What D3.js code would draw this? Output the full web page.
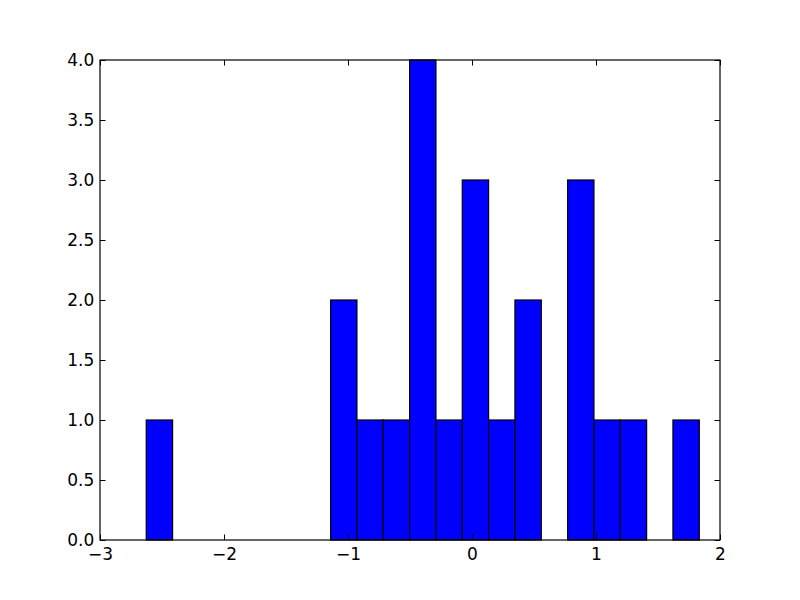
<!DOCTYPE html>
<html>
<head>
<meta charset="utf-8">
<script src="https://cdn.jsdelivr.net/npm/d3@7"></script>
<style>
  html, body { margin: 0; padding: 0; background: #fff; }
  svg { display: block; }
  text { font-family: "DejaVu Sans", sans-serif; }
</style>
</head>
<body>
<svg id="chart" width="800" height="600"></svg>
<script>
// Histogram data
const binStart = -2.627;
const binEnd = 1.833;
const counts = [1, 0, 0, 0, 0, 0, 0, 2, 1, 1, 4, 1, 3, 1, 2, 0, 3, 1, 1, 0, 1];
const xTicks = [-3, -2, -1, 0, 1, 2];
const yTicks = [0, 0.5, 1, 1.5, 2, 2.5, 3, 3.5, 4];

const margin = {left: 100, right: 80, top: 60, bottom: 60};
const W = 800, H = 600;
const svg = d3.select("#chart");

const x = d3.scaleLinear().domain([-3, 2]).range([margin.left, W - margin.right]);
const y = d3.scaleLinear().domain([0, 4]).range([H - margin.bottom, margin.top]);

const bw = (binEnd - binStart) / counts.length;
const bins = counts.map((c, i) => ({x0: binStart + i * bw, x1: binStart + (i + 1) * bw, c}));

svg.append("rect").attr("x", x(-3)).attr("y", y(4))
  .attr("width", x(2) - x(-3)).attr("height", y(0) - y(4)).attr("fill", "#fff");

svg.append("g").selectAll("rect").data(bins.filter(b => b.c > 0)).join("rect")
  .attr("x", d => x(d.x0))
  .attr("y", d => y(d.c))
  .attr("width", d => x(d.x1) - x(d.x0))
  .attr("height", d => y(0) - y(d.c))
  .attr("fill", "#0000ff")
  .attr("stroke", "#000")
  .attr("stroke-width", 1.2);

const tickLen = 5.5;
const fmtX = d => d < 0 ? "\u2212" + Math.abs(d) : String(d);
const fmtY = d3.format(".1f");

const axB = d3.axisBottom(x).tickValues(xTicks).tickSizeInner(-tickLen).tickSizeOuter(0).tickPadding(8).tickFormat(fmtX);
const axT = d3.axisTop(x).tickValues(xTicks).tickSizeInner(-tickLen).tickSizeOuter(0).tickFormat("");
const axL = d3.axisLeft(y).tickValues(yTicks).tickSizeInner(-tickLen).tickSizeOuter(0).tickPadding(5.7).tickFormat(fmtY);
const axR = d3.axisRight(y).tickValues(yTicks).tickSizeInner(-tickLen).tickSizeOuter(0).tickFormat("");

function style(g) {
  g.select(".domain").remove();
  g.selectAll(".tick line").attr("stroke", "#000").attr("stroke-width", 1);
  g.selectAll(".tick text").attr("fill", "#000").attr("font-size", "17px").attr("font-family", "DejaVu Sans, sans-serif");
}
svg.append("g").attr("transform", `translate(0,${y(0)})`).call(axB).call(style);
svg.append("g").attr("transform", `translate(0,${y(4)})`).call(axT).call(style);
svg.append("g").attr("transform", `translate(${x(-3)},0)`).call(axL).call(style);
svg.append("g").attr("transform", `translate(${x(2)},0)`).call(axR).call(style);

svg.append("rect").attr("x", x(-3)).attr("y", y(4))
  .attr("width", x(2) - x(-3)).attr("height", y(0) - y(4))
  .attr("fill", "none").attr("stroke", "#000").attr("stroke-width", 1.2);
</script>
</body>
</html>
